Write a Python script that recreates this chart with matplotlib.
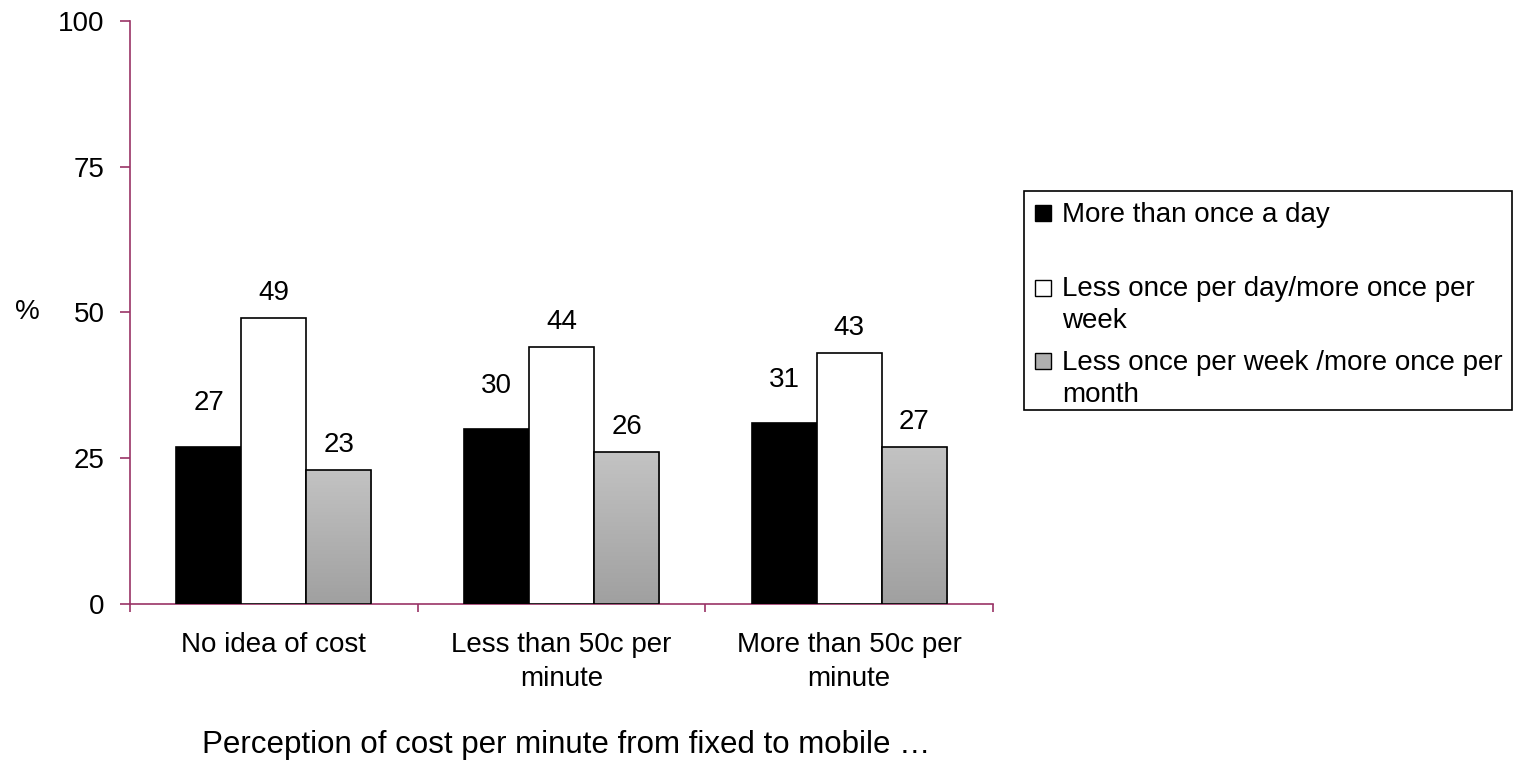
import numpy as np
import matplotlib
matplotlib.use("Agg")
import matplotlib.pyplot as plt
from matplotlib.patches import Rectangle
from matplotlib.colors import LinearSegmentedColormap

plt.rcParams['font.family'] = ['Liberation Sans', 'DejaVu Sans']

# data
categories = ["No idea of cost", "Less than 50c per\nminute", "More than 50c per\nminute"]
series_names = ["More than once a day",
                "Less once per day/more once per\nweek",
                "Less once per week /more once per\nmonth"]
more_than_daily = [27, 30, 31]
daily_to_weekly = [49, 44, 43]
weekly_to_monthly = [23, 26, 27]
yticks = [0, 25, 50, 75, 100]

axis_col = "#993366"
fs = 20
W, H = 1522, 764

fig = plt.figure(figsize=(15.22, 7.64), dpi=100)
ax = fig.add_axes([130/W, 1-604/H, (993-130)/W, (604-20.7)/H])

x = np.arange(len(categories)) + 0.5
w = 0.226

b1 = ax.bar(x - w, more_than_daily, w, color="black", edgecolor="black", lw=1.2, zorder=3)
b2 = ax.bar(x, daily_to_weekly, w, color="white", edgecolor="black", lw=1.2, zorder=3)
b3 = ax.bar(x + w, weekly_to_monthly, w, color="none", edgecolor="black", lw=1.2, zorder=4)

# grey gradient fill for the third series
grey = LinearSegmentedColormap.from_list("g", ["#a0a0a0", "#c3c3c3"])
grad = np.linspace(0, 1, 256).reshape(-1, 1)
for r in b3:
    im = ax.imshow(grad, cmap=grey,
                   extent=[r.get_x(), r.get_x() + r.get_width(), 0, r.get_height()],
                   origin="lower", aspect="auto", zorder=3)
    im.set_clip_path(r)

# value labels (first series sits higher in the original)
for bars, vals, off in [(b1, more_than_daily, 31), (b2, daily_to_weekly, 18), (b3, weekly_to_monthly, 18)]:
    for r, v in zip(bars, vals):
        ax.annotate(str(v), (r.get_x() + r.get_width()/2, v), xytext=(0, off),
                    textcoords="offset points", ha="center", va="center", fontsize=fs)

ax.set_xlim(0, 3)
ax.set_ylim(0, 100)
ax.set_yticks(yticks)
ax.set_yticklabels([str(t) for t in yticks], fontsize=fs)
ax.set_xticks([0, 1, 2, 3])
ax.set_xticklabels([])
ax.set_xticks(x, minor=True)
ax.set_xticklabels(categories, minor=True, fontsize=fs, linespacing=1.43)
ax.tick_params(axis="x", which="minor", length=0, pad=20)
ax.tick_params(axis="x", which="major", length=6, color=axis_col, width=1.2)
ax.tick_params(axis="y", length=7.2, color=axis_col, width=1.2, pad=11)
for s in ["top", "right"]:
    ax.spines[s].set_visible(False)
for s in ["left", "bottom"]:
    ax.spines[s].set_color(axis_col)
    ax.spines[s].set_linewidth(1.2)
ax.set_ylabel("%", fontsize=fs, rotation=0, va="center", ha="center")
ax.yaxis.set_label_coords(-0.119, 0.5)
fig.text(566/W, 1-745/H, "Perception of cost per minute from fixed to mobile …",
         ha="center", va="center", fontsize=22.5)

# legend drawn by hand to follow the original spacing
fig.patches.append(Rectangle((1024/W, 1-410/H), (1512-1024)/W, (410-191)/H,
                             transform=fig.transFigure, fill=False, edgecolor="black", lw=1.2))
first_base = [222, 297, 370]
last_base = [222, 328, 402]
leg_colors = ["black", "white", "#b0b0b0"]
for name, col, py, ly in zip(series_names, leg_colors, first_base, last_base):
    fig.patches.append(Rectangle((1035/W, 1-(py-1)/H), 16/W, 16/H,
                                 transform=fig.transFigure, facecolor=col, edgecolor="black", lw=1))
    fig.text(1062/W, 1-ly/H, name, ha="left", va="baseline", fontsize=fs, linespacing=1.28)

fig.savefig("out.png", dpi=100)
